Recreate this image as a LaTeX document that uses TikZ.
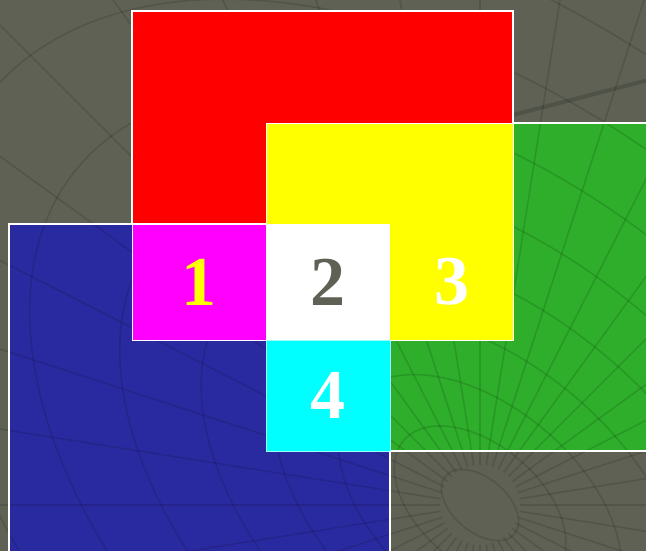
\documentclass[tikz,border=0pt]{standalone}
\usepackage{fontspec}
\setmainfont{Liberation Serif}
\definecolor{bgc}{RGB}{94,97,84}
\definecolor{bluec}{RGB}{42,42,160}
\definecolor{greenc}{RGB}{46,174,42}
\definecolor{redc}{RGB}{255,0,0}
\definecolor{yellowc}{RGB}{255,255,0}
\definecolor{magentac}{RGB}{255,0,255}
\definecolor{cyanc}{RGB}{0,255,255}
\begin{document}
\begin{tikzpicture}[x=1pt,y=-1pt,
  panel/.style={inner sep=0pt, outer sep=0pt, font=\fontsize{70}{70}\selectfont\bfseries},
  tex/.style={black, opacity=0.12, line width=1.6pt},
  edge/.style={draw=white, line width=1.5pt}]
\useasboundingbox (0,0) rectangle (646,551);
\begin{scope}
\clip (0,0) rectangle (646,551);
\fill[bgc] (0,0) rectangle (646,551);
\node[panel, fill=bluec, minimum width=381pt, minimum height=346pt] (blue) at (199.5,397) {};
\node[panel, fill=greenc, minimum width=270pt, minimum height=328pt] (green) at (525,287) {};
% background texture
\foreach \a in {0,9,...,351}
  \draw[tex] (480,505) ++(\a:40) -- ++(\a:900);
\foreach \r in {45,100,165,240,325,420,525,640,770}
  \draw[tex, rotate around={-40:(480,505)}] (480,505) ellipse [x radius=\r pt, y radius=0.6*\r pt];
\draw[black, opacity=0.15, line width=4pt] (513,115) -- (660,77);
\draw[edge] (blue.south west) -- (blue.north west) -- (blue.north east) -- (blue.south east);
\draw[edge] (green.north west) -- (green.north east);
\draw[edge] (green.south west) -- (green.south east);
\node[panel, fill=redc, edge, minimum width=381pt, minimum height=213pt] (red) at (322.5,117.5) {};
\node[panel, fill=yellowc, draw=white, line width=0.8pt, minimum width=247pt, minimum height=217pt] (yellow) at (389.5,231.5) {};
\node[panel, fill=magentac, draw=white, line width=0.8pt, minimum width=134pt, minimum height=116pt, text=yellowc] (one) at (199,282) {1};
\node[panel, fill=white, minimum width=124pt, minimum height=116pt, text=bgc] (two) at (328,282) {2};
\node[panel, text=white, minimum width=123pt, minimum height=116pt] (three) at (451.5,282) {3};
\node[panel, fill=cyanc, draw=white!60!cyanc, line width=0.8pt, minimum width=124pt, minimum height=111pt, text=white] (four) at (328,395.5) {4};
\end{scope}
\end{tikzpicture}
\end{document}
